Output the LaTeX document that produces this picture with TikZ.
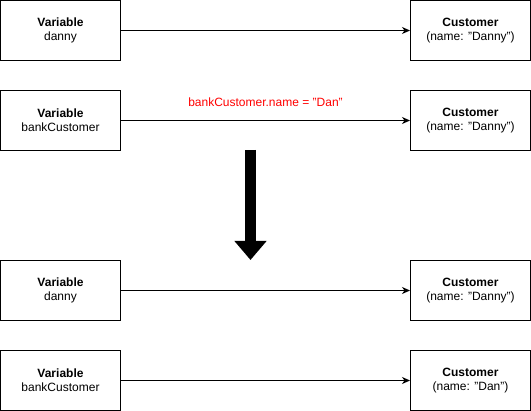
\documentclass[tikz,border=0pt]{standalone}
\usepackage{fontspec}
\setmainfont{Liberation Sans}
\usetikzlibrary{arrows.meta}
\definecolor{lblred}{HTML}{FF0000}
\begin{document}
\begin{tikzpicture}[x=1pt,y=-1pt,
  box/.style={draw=black, line width=1pt, minimum width=120pt, minimum height=60pt, inner sep=0pt, align=center, font=\fontsize{12}{14}\selectfont},
  link/.style={draw=black, line width=1pt, -{Stealth[length=8pt,width=7pt,inset=2.5pt]}},
  lbltext/.style={text=lblred, font=\fontsize{12}{14}\selectfont}
]
\useasboundingbox (0,0) rectangle (531,411);
\node[box] (v1) at (60.5,30.5) {\textbf{Variable}\\danny};
\node[box] (c1) at (470.5,30.5) {\textbf{Customer}\\(name: "Danny")};
\node[box] (v2) at (60.5,120.5) {\textbf{Variable}\\bankCustomer};
\node[box] (c2) at (470.5,120.5) {\textbf{Customer}\\(name: "Danny")};
\node[box] (v3) at (60.5,290.5) {\textbf{Variable}\\danny};
\node[box] (c3) at (470.5,290.5) {\textbf{Customer}\\(name: "Danny")};
\node[box] (v4) at (60.5,380.5) {\textbf{Variable}\\bankCustomer};
\node[box] (c4) at (470.5,380.5) {\textbf{Customer}\\(name: "Dan")};
\draw[link] (v1) -- (c1);
\draw[link] (v2) -- node[above=10pt, lbltext] (lbl) {bankCustomer.name = "Dan"} (c2);
\draw[link] (v3) -- (c3);
\draw[link] (v4) -- (c4);
\coordinate (ba) at (250.5,150);
\coordinate (bb) at (250.5,260);
\draw[black, line width=11pt, -{Triangle[length=19pt,width=31pt]}] (ba) -- (bb);
\end{tikzpicture}
\end{document}
